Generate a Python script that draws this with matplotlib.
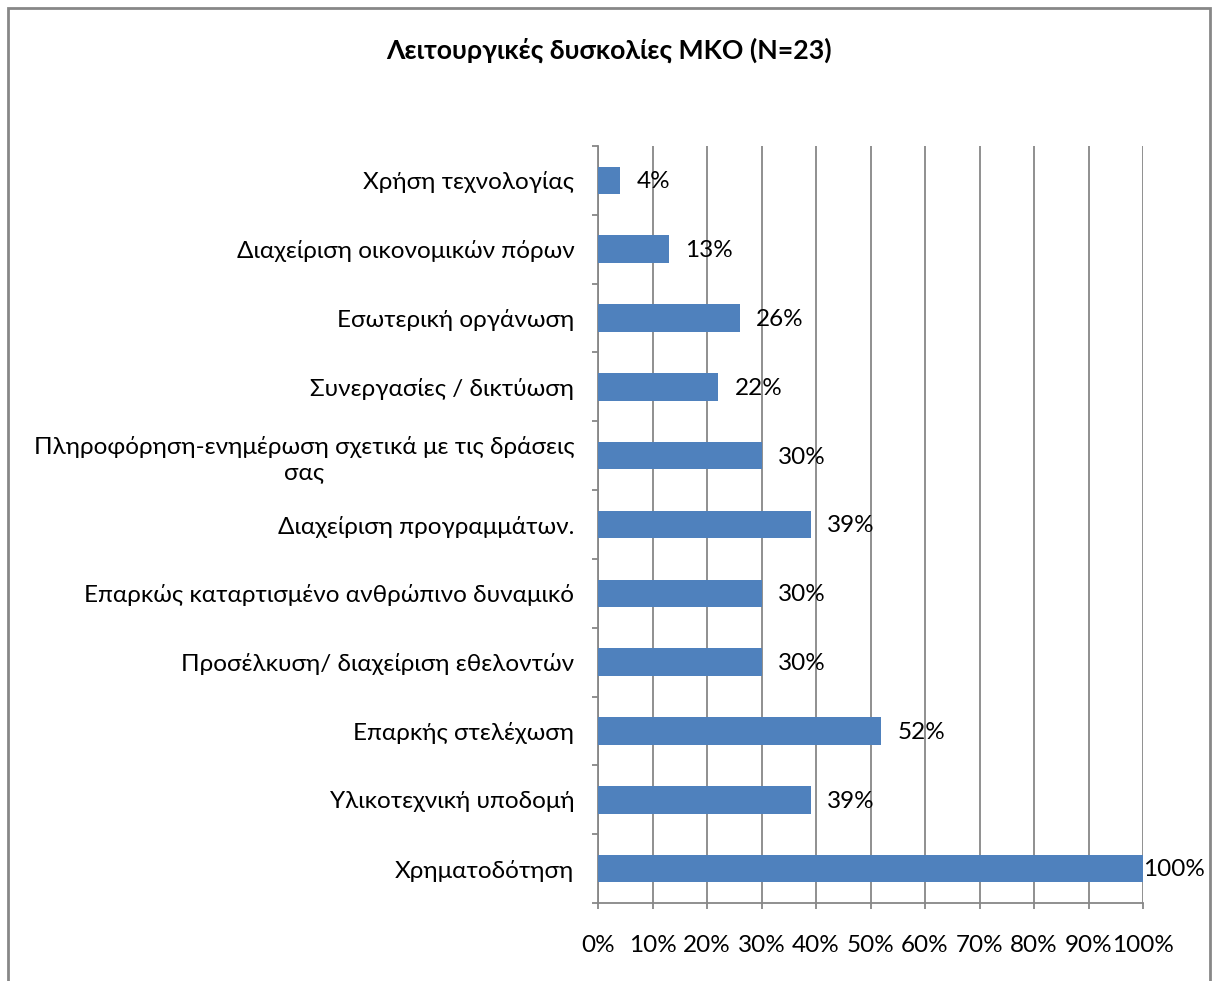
import matplotlib
matplotlib.use("Agg")
import matplotlib.pyplot as plt
from matplotlib.patches import Rectangle
import numpy as np

categories = [
    "Χρήση τεχνολογίας",
    "Διαχείριση οικονομικών πόρων",
    "Εσωτερική οργάνωση",
    "Συνεργασίες / δικτύωση",
    "Πληροφόρηση-ενημέρωση σχετικά με τις δράσεις\nσας",
    "Διαχείριση προγραμμάτων.",
    "Επαρκώς καταρτισμένο ανθρώπινο δυναμικό",
    "Προσέλκυση/ διαχείριση εθελοντών",
    "Επαρκής στελέχωση",
    "Υλικοτεχνική υποδομή",
    "Χρηματοδότηση",
]
values = [4, 13, 26, 22, 30, 39, 30, 30, 52, 39, 100]
xticks = list(range(0, 101, 10))
title = "Λειτουργικές δυσκολίες ΜΚΟ (Ν=23)"

plt.rcParams['font.family'] = ['Lato', 'DejaVu Sans']
W, H = 1214, 981
fig = plt.figure(figsize=(W / 100, H / 100), dpi=100)
ax = fig.add_axes([598 / W, (H - 903) / H, (1143 - 598) / W, (903 - 146) / H])

gray = "#878787"
bar_color = "#4F81BD"
fs = 17.5
y = np.arange(len(categories))
ax.barh(y, values, height=0.4, color=bar_color, zorder=3)

ax.set_xlim(0, 100)
ax.set_ylim(len(categories) - 0.5, -0.5)
ax.set_xticks(xticks)
ax.set_xticklabels([f"{t}%" for t in xticks], fontsize=fs)
ax.xaxis.grid(True, color=gray, linewidth=1.3, zorder=0)

# y: boundary ticks (major), labels (minor)
ax.set_yticks(np.arange(-0.5, len(categories), 1.0))
ax.set_yticklabels([])
ax.set_yticks(y, minor=True)
ax.set_yticklabels(categories, minor=True, fontsize=fs)
for lbl in ax.get_yticklabels(minor=True):
    lbl.set_multialignment('center')
ax.tick_params(axis='y', which='minor', length=0, pad=17)
ax.tick_params(axis='y', which='major', length=4.5, width=1.3, color=gray)
ax.tick_params(axis='x', length=4.5, width=1.3, color=gray, pad=18.5)

for side in ['top', 'right']:
    ax.spines[side].set_visible(False)
for side in ['left', 'bottom']:
    ax.spines[side].set_color(gray)
    ax.spines[side].set_linewidth(1.3)

for yi, v in zip(y, values):
    off = 12 if v < 100 else 0
    ax.annotate(f"{v}%", (v, yi), xytext=(off, -1), textcoords='offset points',
                va='center', ha='left', fontsize=fs, zorder=4, annotation_clip=False)

fig.text(609 / W, 1 - 50 / H, title, ha='center', va='center', fontsize=19.2, fontweight='bold')

fig.patches.append(Rectangle((8 / W, -0.02), (1210 - 8) / W, (H - 8) / H + 0.02,
                             transform=fig.transFigure, fill=False, edgecolor=gray, linewidth=2))

fig.savefig("out.png", dpi=100)
